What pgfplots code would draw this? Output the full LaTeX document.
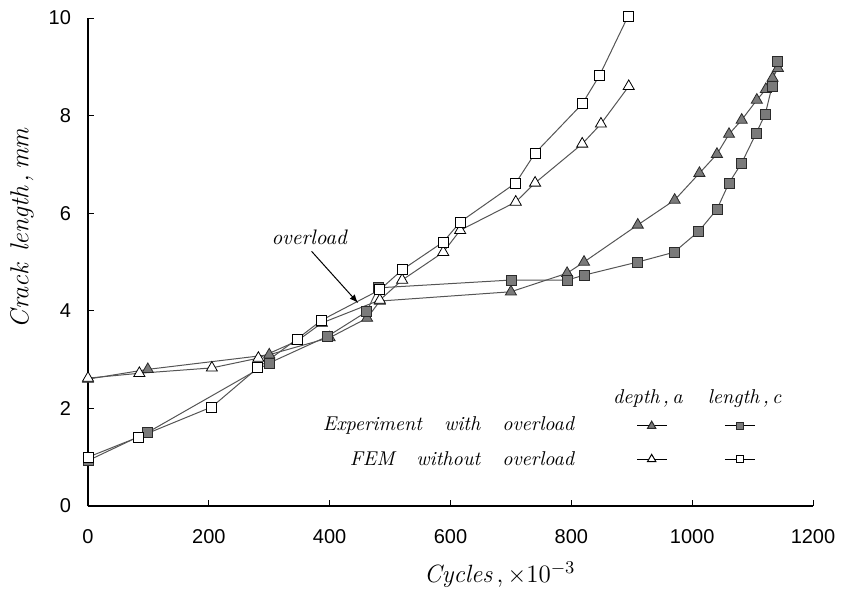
\documentclass[border=0pt]{standalone}
\usepackage{fontspec}
\usepackage{pgfplots}
\pgfplotsset{compat=1.18}
\newfontfamily\arial{Liberation Sans}
\definecolor{lineGray}{HTML}{555555}
\definecolor{markGray}{HTML}{7A7A7A}
\definecolor{markEdge}{HTML}{2A2A2A}

\begin{document}
\begin{tikzpicture}
  \begin{axis}[
    name=ax,
    scale only axis,
    width=362.5pt,height=244pt,
    xmin=0,xmax=1200,ymin=0,ymax=10,
    axis lines=left,
    axis line style={-,black,line width=0.6pt},
    xtick={0,200,...,1200},
    ytick={0,2,...,10},
    tick align=inside,
    major tick length=3pt,
    tick style={black,line width=0.5pt},
    /pgf/number format/assume math mode=true,
    /pgf/number format/1000 sep={},
    tick label style={font=\arial\fontsize{10}{12}\selectfont},
    xticklabel style={yshift=-8pt},
    yticklabel style={xshift=-5pt},
    xlabel={\fontsize{12.5}{14}\selectfont\textit{Cycles}\,,\,$\times$10$^{-3}$},
    ylabel={\fontsize{13}{15}\selectfont\textit{Crack\hspace{6pt}length\,,\,mm}},
    every axis x label/.style={at={([yshift=-34.5pt]rel axis cs:0.568,0)},anchor=center},
    every axis y label/.style={at={([xshift=-33pt]rel axis cs:0,0.57)},rotate=90,anchor=center},
    clip=false,
    every axis plot/.append style={line width=0.5pt,draw=lineGray},
  ]
    % experiment with overload, depth a
    \addplot[mark=triangle*,mark size=3.2pt,mark options={fill=markGray,draw=markEdge,line width=0.4pt}]
      coordinates {(0,2.6) (99,2.8) (300,3.1) (400,3.45) (462,3.85) (483,4.2)
                   (700,4.39) (793,4.77) (821,5.0) (910,5.76) (971,6.27) (1012,6.82)
                   (1041,7.21) (1061,7.62) (1082,7.91) (1107,8.32) (1122,8.54)
                   (1133,8.77) (1142,8.97)};
    % experiment with overload, length c
    \addplot[mark=square*,mark size=2.5pt,mark options={fill=markGray,draw=markEdge,line width=0.4pt}]
      coordinates {(0,0.93) (99,1.51) (300,2.93) (397,3.48) (461,3.98) (480,4.47)
                   (700,4.63) (793,4.63) (821,4.73) (910,5.0) (970,5.2) (1011,5.63)
                   (1041,6.08) (1061,6.62) (1082,7.03) (1106,7.64) (1121,8.03)
                   (1132,8.59) (1141,9.12)};
    % FEM without overload, depth a
    \addplot[mark=triangle*,mark size=3.2pt,mark options={fill=white,draw=black,line width=0.4pt}]
      coordinates {(0,2.62) (85,2.72) (205,2.83) (282,3.03) (346,3.38) (387,3.75)
                   (483,4.22) (520,4.63) (588,5.2) (616,5.65) (708,6.23) (740,6.62)
                   (818,7.42) (849,7.83) (895,8.6)};
    % FEM without overload, length c
    \addplot[mark=square*,mark size=2.5pt,mark options={fill=white,draw=black,line width=0.4pt}]
      coordinates {(0,1.0) (83,1.41) (205,2.03) (281,2.83) (346,3.42) (387,3.81)
                   (483,4.43) (520,4.84) (588,5.41) (616,5.82) (708,6.62) (740,7.23)
                   (818,8.24) (847,8.83) (894,10.04)};

    % legend samples
    \addplot[black,mark=triangle*,mark size=2.4pt,mark indices={2},mark options={fill=markGray,draw=markEdge}]
      coordinates {(909,1.64) (933,1.64) (958,1.64)};
    \addplot[black,mark=square*,mark size=1.9pt,mark indices={2},mark options={fill=markGray,draw=markEdge}]
      coordinates {(1054,1.64) (1079,1.64) (1104,1.64)};
    \addplot[black,mark=triangle*,mark size=2.4pt,mark indices={2},mark options={fill=white,draw=black}]
      coordinates {(909,0.96) (933,0.96) (958,0.96)};
    \addplot[black,mark=square*,mark size=1.9pt,mark indices={2},mark options={fill=white,draw=black}]
      coordinates {(1054,0.96) (1079,0.96) (1104,0.96)};

    \node[anchor=center,font=\fontsize{10}{12}\selectfont] at (axis cs:927,2.21) {\textit{depth\,,\,a}};
    \node[anchor=center,font=\fontsize{10}{12}\selectfont] at (axis cs:1087,2.21) {\textit{length\,,\,c}};
    \node[anchor=east,font=\fontsize{10}{12}\selectfont] at (axis cs:818,1.64) {\textit{Experiment\hspace{11pt}with\hspace{11pt}overload}};
    \node[anchor=east,font=\fontsize{10}{12}\selectfont] at (axis cs:818,0.96) {\textit{FEM\hspace{11pt}without\hspace{11pt}overload}};

    % overload annotation
    \node[anchor=center,font=\fontsize{10.5}{12}\selectfont] at (axis cs:367,5.5) {\textit{overload}};
    \draw[-latex,line width=0.5pt,black] (axis cs:370,5.22) -- (axis cs:447,4.16);
  \end{axis}
  \pgfresetboundingbox
  \path ([xshift=-44pt,yshift=-50pt]ax.south west) rectangle ([xshift=14.5pt,yshift=9pt]ax.north east);
\end{tikzpicture}
\end{document}
